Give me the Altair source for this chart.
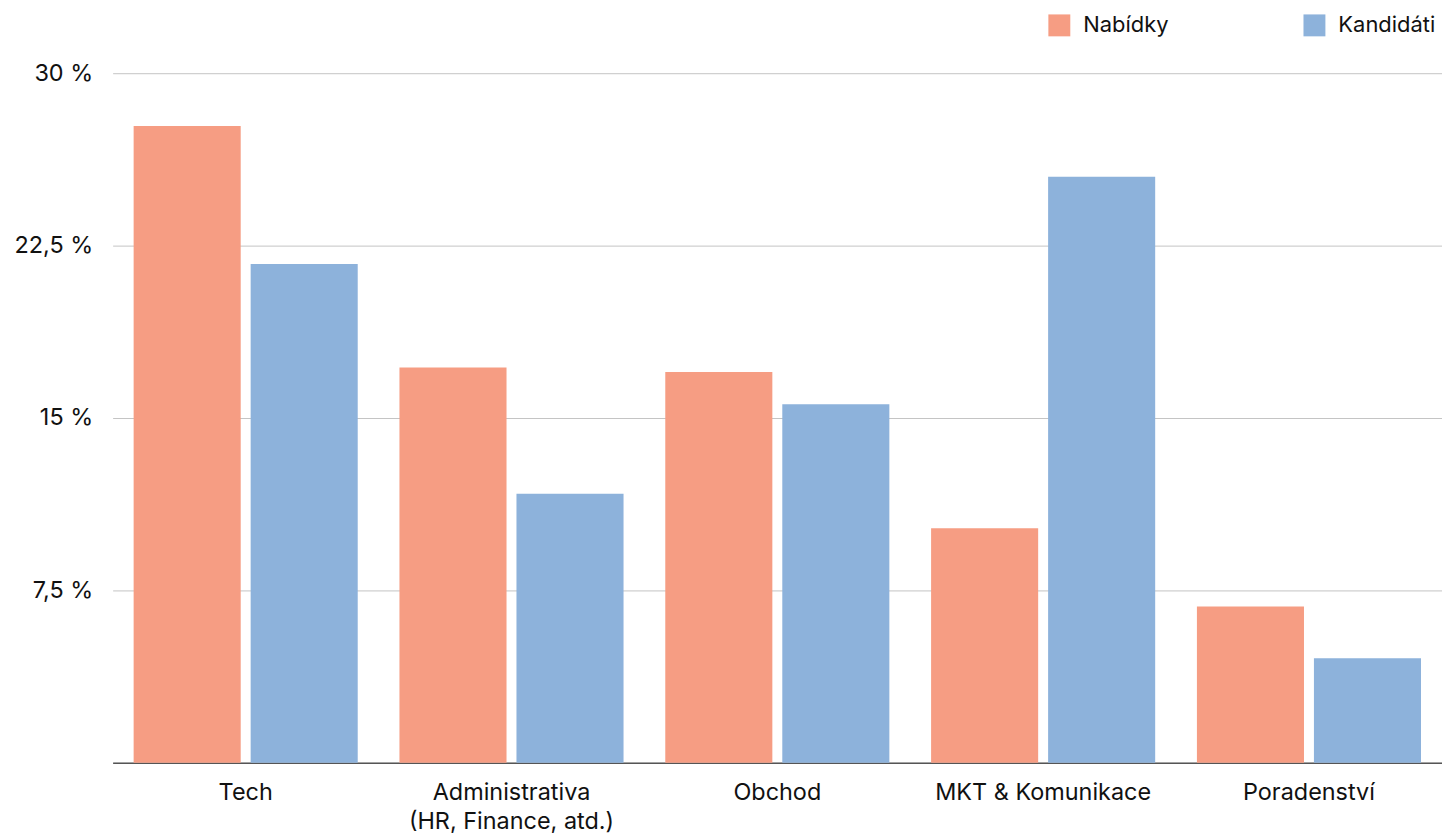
import altair as alt
import pandas as pd

categories = ["Tech", "Administrativa\n(HR, Finance, atd.)", "Obchod", "MKT & Komunikace", "Poradenství"]
nabidky = [27.7, 17.2, 17.0, 10.2, 6.8]
kandidati = [21.7, 11.7, 15.6, 25.5, 4.55]
series = ["Nabídky", "Kandidáti"]
colors = ["#F69D83", "#8DB2DB"]

rows = []
for c, n, k in zip(categories, nabidky, kandidati):
    rows.append({"kategorie": c, "serie": series[0], "hodnota": n})
    rows.append({"kategorie": c, "serie": series[1], "hodnota": k})
df = pd.DataFrame(rows)

FONT = "Inter"

chart = alt.Chart(df).mark_bar().encode(
    x=alt.X("kategorie:N", sort=categories, title=None,
            scale=alt.Scale(paddingInner=0.157, paddingOuter=0.079),
            axis=alt.Axis(labelAngle=0, labelExpr="split(datum.label, '\\n')",
                          labelFontSize=23.5, labelColor="#111", labelFont=FONT,
                          labelPadding=18, ticks=False, domainColor="#555",
                          domainWidth=1.5, labelLineHeight=29, labelBaseline="top",
                          labelLimit=0)),
    xOffset=alt.XOffset("serie:N", sort=series,
                        scale=alt.Scale(paddingInner=0.085, paddingOuter=0)),
    y=alt.Y("hodnota:Q", title=None,
            scale=alt.Scale(domain=[0, 30], nice=False),
            axis=alt.Axis(values=[0, 7.5, 15, 22.5, 30],
                          labelExpr="datum.value == 0 ? '' : replace(format(datum.value, '.1~f'), '.', ',') + ' %'",
                          labelFontSize=23.5, labelColor="#111", labelFont=FONT,
                          labelPadding=20, ticks=False, domain=False,
                          gridColor="#c4c4c4", gridWidth=1)),
    color=alt.Color("serie:N", sort=series,
                    scale=alt.Scale(domain=series, range=colors),
                    legend=alt.Legend(title=None, orient="none", direction="horizontal",
                                      legendX=939, legendY=-59, symbolType="square",
                                      symbolSize=484, symbolStrokeWidth=0,
                                      labelFontSize=22, labelFont=FONT, labelColor="#111",
                                      labelOffset=13, columnPadding=135, padding=0,
                                      labelLimit=0)),
).properties(
    width=1334, height=692,
    padding={"left": 105, "top": 64, "right": 0, "bottom": 70},
    autosize=alt.AutoSizeParams(type="none"),
).configure_view(stroke=None)

chart.save("out.html", embed_options={"renderer": "svg", "actions": False})
